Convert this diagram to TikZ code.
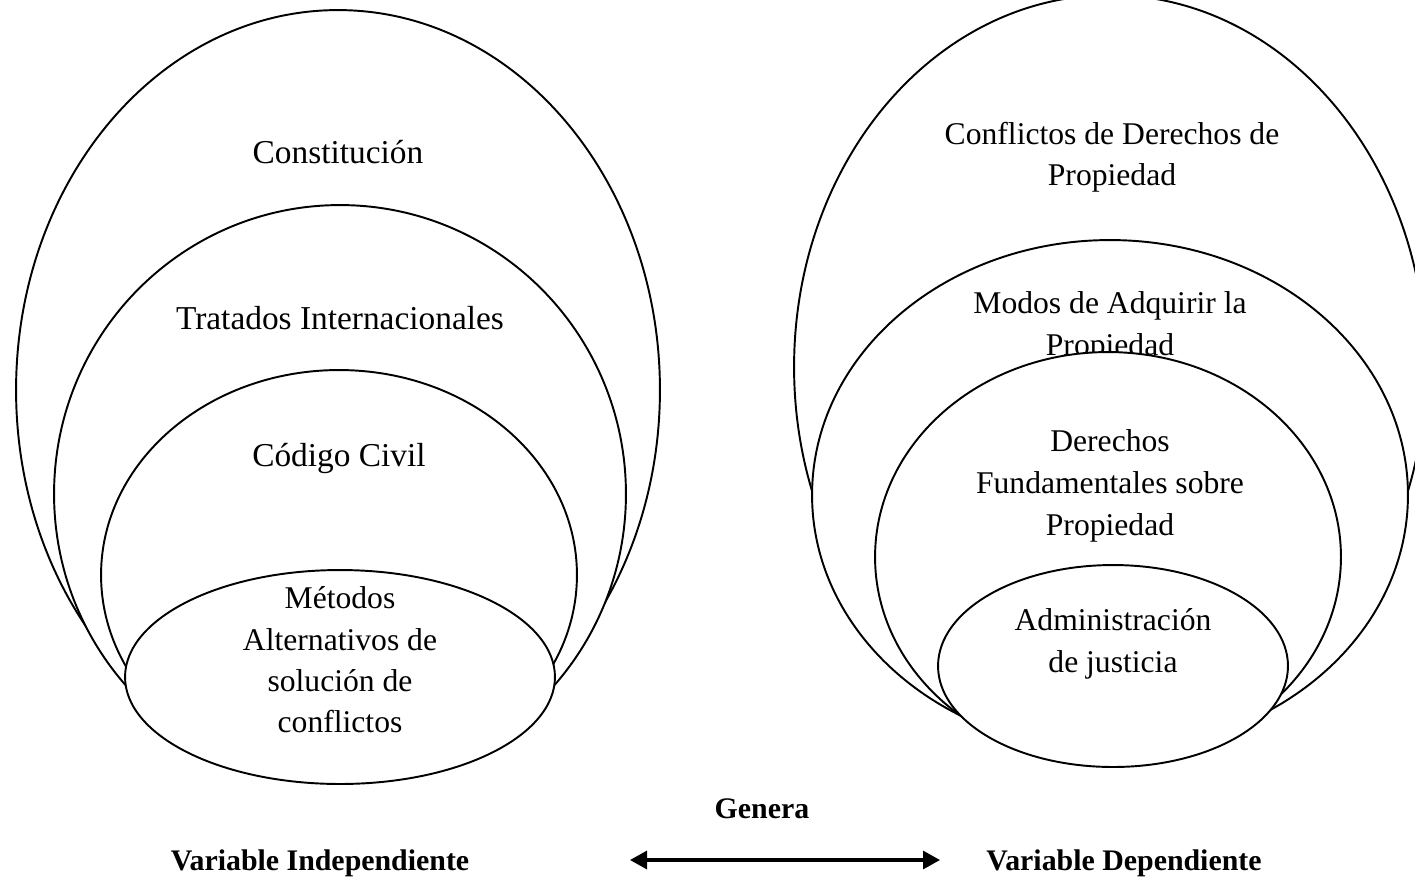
\documentclass[tikz,border=0pt]{standalone}
\usepackage{fontspec}
\setmainfont{Liberation Serif}
\usetikzlibrary{shapes.geometric,arrows.meta}

\begin{document}
\begin{tikzpicture}[
		x=0.02cm, y=-0.02cm,
		every node/.style={align=center, font=\fontsize{18}{23.5}\selectfont},
		ring/.style={ellipse, draw=black, fill=white, line width=1.1pt, inner sep=0pt, outer sep=0pt},
		ringtext/.style={inner sep=0pt},
		widetext/.style={inner sep=0pt, font=\fontsize{19}{23.5}\selectfont},
		vartext/.style={font=\fontsize{17}{23.5}\selectfont\bfseries}
		]
		\useasboundingbox (0,0) rectangle (1415,883);
		% independiente
		\node[ring, minimum width=12.88cm, minimum height=15.2cm] (const) at (338,390) {};
		\node[widetext] (constT) at (338,152) {Constitución};
		\node[ring, minimum width=11.44cm, minimum height=11.56cm] (trat) at (340,494) {};
		\node[widetext] (tratT) at (340,318) {Tratados Internacionales};
		\node[ring, minimum width=9.52cm, minimum height=8.2cm] (cod) at (339,575) {};
		\node[widetext] (codT) at (339,458) {Código Civil};
		\node[ring, minimum width=8.6cm, minimum height=4.28cm] (met) at (340,677) {};
		\node[ringtext] (metT) at (340,660) {Métodos\\Alternativos de\\solución de\\conflictos};
		% dependiente
		\node[ring, minimum width=12.64cm, minimum height=14.88cm] (conf) at (1110,367) {};
		\node[ringtext] (confT) at (1112,157) {Conflictos de Derechos de\\Propiedad};
		\node[ring, minimum width=11.92cm, minimum height=10.2cm] (modos) at (1110,495) {};
		\node[ringtext] (modosT) at (1110,327) {Modos de Adquirir la\\Propiedad};
		\node[ring, minimum width=9.32cm, minimum height=8.2cm] (der) at (1108,557) {};
		\node[ringtext, font=\fontsize{18}{24}\selectfont] (derT) at (1110,486) {Derechos\\Fundamentales sobre\\Propiedad};
		\node[ring, minimum width=7cm, minimum height=4.04cm] (adm) at (1113,666) {};
		\node[ringtext] (admT) at (1113,644) {Administración\\de justicia};
		% variables
		\node[vartext] (genera) at (762,809) {Genera};
		\node[vartext] (indep) at (320,863) {Variable Independiente};
		\node[vartext] (dep) at (1124,863) {Variable Dependiente};
		\coordinate (izq) at (630,860);
		\coordinate (der2) at (940,860);
		\draw[line width=1.8pt, {Triangle[length=3.4mm,width=3.6mm]}-{Triangle[length=3.4mm,width=3.6mm]}] (izq) -- (der2);
	\end{tikzpicture}
\end{document}
